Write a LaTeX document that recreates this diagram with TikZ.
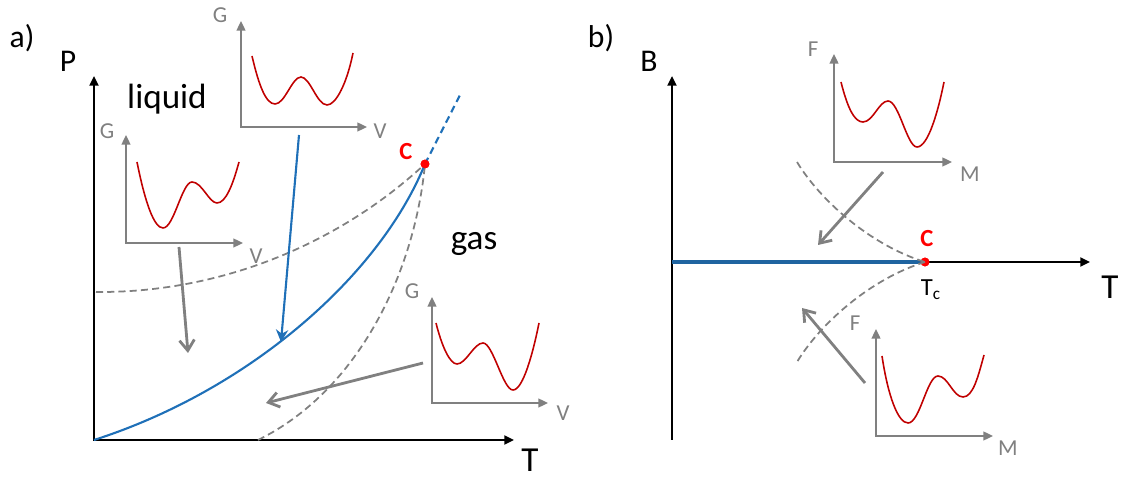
\documentclass[tikz,border=0pt]{standalone}
\usepackage{fontspec}
\setmainfont{Carlito}
\usetikzlibrary{arrows.meta}

\definecolor{pblue}{RGB}{31,112,184}
\definecolor{lblue}{RGB}{31,100,160}
\definecolor{pred}{RGB}{192,0,0}
\definecolor{pgray}{RGB}{128,128,128}

\begin{document}
\begin{tikzpicture}[x=0.02cm, y=-0.02cm,
  axis/.style={line width=1.6pt, -{Triangle[length=5.5pt,width=5pt]}},
  ax/.style={pgray, line width=1.1pt, {Triangle[length=5.5pt,width=5pt]}-{Triangle[length=5.5pt,width=5pt]}},
  pot/.style={pred, line width=0.9pt},
  lab/.style={pgray, inner sep=0pt, font=\fontsize{13}{15}\selectfont},
  mv/.style={pgray, line width=1.6pt, -{Straight Barb[length=6pt,width=8.5pt]}},
  bnd/.style={pgray, line width=1pt, dash pattern=on 4pt off 2.4pt},
  big/.style={inner sep=0pt, font=\fontsize{20}{23}\selectfont},
  mid/.style={inner sep=0pt, font=\fontsize{18}{21}\selectfont},
  crit/.style={circle, fill=red, inner sep=0pt, minimum size=5pt},
  clab/.style={red, inner sep=0pt, font=\fontsize{14}{16}\bfseries\selectfont}
]
\useasboundingbox (0,0) rectangle (1123,479);

% ---------- a) P-T diagram ----------
\coordinate (Oa) at (94,440);
\coordinate (Pa) at (94,76);
\coordinate (Ta) at (514,440);
\draw[axis, {Triangle[length=5.5pt,width=5pt]}-{Triangle[length=5.5pt,width=5pt]}] (Pa) -- (Oa) -- (Ta);
\node[mid] (tagA) at (22,38) {a)};
\node[mid] (lblP) at (68,61) {P};
\node[big] (lblTa) at (530,460) {T};
\node[big] (liquid) at (167,99) {liquid};
\node[big] (gas) at (474,244) {gas};

% critical point and phase lines
\node[crit] (Ca) at (425,164) {};
\node[clab] (lblCa) at (406,152) {C};
\coordinate (Cend) at (461,93);
\coordinate (Ls) at (96,292);
\coordinate (Gs) at (258,440);
\draw[bnd] (Ls) .. controls (225,293) and (342,241) .. (Ca.center);
\draw[bnd] (Gs) .. controls (360,390) and (415,270) .. (Ca.center);
\draw[pblue, line width=1.2pt] (Oa) .. controls (250,390) and (380,275) .. (Ca.center);
\draw[pblue, line width=1.2pt, dash pattern=on 4pt off 2.6pt] (Ca.center) -- (Cend);
\node[crit] at (Ca) {};

% inset: coexistence (top)
\coordinate (o1) at (241,127);
\draw[ax] (241,21) -- (o1) -- (367,127);
\node[lab] (g1) at (220,15) {G};
\node[lab] (v1) at (380,131) {V};
\draw[pot] (252,56) .. controls +(7,30) and +(-9,0) .. (275,104)
  .. controls +(10,0) and +(-9,0) .. (301,77)
  .. controls +(9,0) and +(-10,0) .. (327,105)
  .. controls +(9,0) and +(-6,30) .. (353,53);

% inset: liquid side
\coordinate (o2) at (126,243);
\draw[ax] (126,135) -- (o2) -- (243,243);
\node[lab] (g2) at (107,131) {G};
\node[lab] (v2) at (256,256) {V};
\draw[pot] (137,162) .. controls +(8,40) and +(-9,0) .. (163,228)
  .. controls +(11,0) and +(-10,0) .. (192,182)
  .. controls +(10,0) and +(-8,0) .. (217,203)
  .. controls +(9,0) and +(-6,22) .. (239,162);

% inset: gas side
\coordinate (o3) at (432,403);
\draw[ax] (432,297) -- (o3) -- (548,403);
\node[lab] (g3) at (412,291) {G};
\node[lab] (v3) at (563,413) {V};
\draw[pot] (436,323) .. controls +(6,24) and +(-7,0) .. (457,364)
  .. controls +(9,0) and +(-9,0) .. (483,343)
  .. controls +(10,0) and +(-10,0) .. (513,390)
  .. controls +(10,0) and +(-6,30) .. (539,323);

% moves across the diagram
\coordinate (m1s) at (299,135);
\coordinate (m1e) at (281,342);
\draw[pblue, line width=1.2pt, -{Stealth[length=7pt,width=7pt]}] (m1s) -- (m1e);
\coordinate (m2s) at (179,247);
\coordinate (m2e) at (188,353);
\draw[mv] (m2s) -- (m2e);
\coordinate (m3s) at (423,363);
\coordinate (m3e) at (266,403);
\draw[mv] (m3s) -- (m3e);

% ---------- b) B-T diagram ----------
\coordinate (Bb) at (672,76);
\coordinate (Bs) at (672,440);
\coordinate (Tb0) at (672,262);
\coordinate (Tb) at (1090,262);
\draw[axis] (Bs) -- (Bb);
\draw[axis] (Tb0) -- (Tb);
\node[mid] (tagB) at (601,38) {b)};
\node[mid] (lblB) at (649,61) {B};
\node[big] (lblTb) at (1110,287) {T};
\node[crit] (Cb) at (925,262) {};
\draw[lblue, line width=2pt] (Tb0) -- (Cb.center);
\node[crit] at (Cb) {};
\node[clab] (lblCb) at (927,239) {C};
\node[inner sep=0pt, font=\fontsize{14}{16}\selectfont] (Tc) at (931,290) {T\textsubscript{c}};

% spinodal-like dashed lines
\coordinate (Us) at (797,162);
\coordinate (Ds) at (797,362);
\draw[bnd] (Us) .. controls (820,200) and (870,245) .. (Cb.center);
\draw[bnd] (Cb.center) .. controls (870,279) and (820,324) .. (Ds);

% inset: B>0 side
\coordinate (o4) at (834,162);
\draw[ax] (834,54) -- (o4) -- (952,162);
\node[lab] (f4) at (813,49) {F};
\node[lab] (m4) at (970,174) {M};
\draw[pot] (841,82) .. controls +(7,28) and +(-8,0) .. (863,122)
  .. controls +(10,0) and +(-9,0) .. (888,101)
  .. controls +(11,0) and +(-10,0) .. (917,147)
  .. controls +(11,0) and +(-6,30) .. (944,82);

% inset: B<0 side
\coordinate (o5) at (876,436);
\draw[ax] (876,329) -- (o5) -- (993,436);
\node[lab] (f5) at (855,323) {F};
\node[lab] (m5) at (1008,448) {M};
\draw[pot] (882,356) .. controls +(6,40) and +(-10,0) .. (908,423)
  .. controls +(12,0) and +(-11,0) .. (938,376)
  .. controls +(10,0) and +(-10,0) .. (963,397)
  .. controls +(10,0) and +(-6,22) .. (984,355);

% field sweeps
\coordinate (m4s) at (883,172);
\coordinate (m4e) at (818,245);
\draw[mv] (m4s) -- (m4e);
\coordinate (m5s) at (865,383);
\coordinate (m5e) at (802,308);
\draw[mv] (m5s) -- (m5e);
\end{tikzpicture}
\end{document}
